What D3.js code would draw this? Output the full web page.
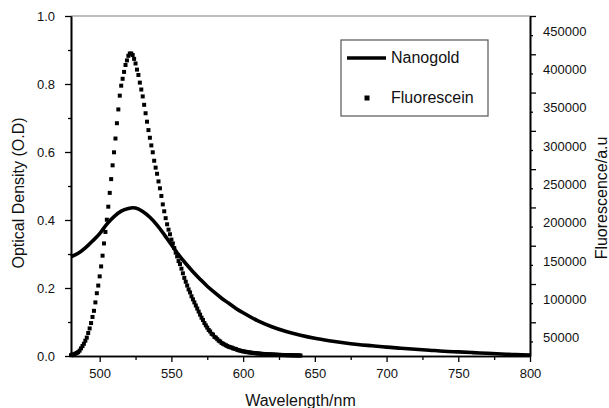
<!DOCTYPE html>
<html>
<head>
<meta charset="utf-8">
<script src="https://cdn.jsdelivr.net/npm/d3@7"></script>
<style>
  body { margin: 0; background: #fff; }
  svg { display: block; font-family: "Liberation Sans", Arial, sans-serif; }
</style>
</head>
<body>
<div id="vis"></div>
<script>
// Nanogold absorbance (O.D) vs wavelength
const NANO_WL = [480, 485, 490, 495, 500, 505, 510, 515, 520, 523, 525, 530, 535, 540, 545, 550, 555, 560, 565, 570,
    575, 580, 585, 590, 595, 600, 610, 620, 630, 640, 650, 660, 670, 680, 690, 700, 710, 720, 730, 740,
    750, 760, 770, 780, 790, 800];
const NANO_OD = [0.292, 0.302, 0.318, 0.338, 0.360, 0.388, 0.410, 0.426, 0.434, 0.436, 0.435, 0.425, 0.408, 0.385, 0.357, 0.327, 0.298, 0.272, 0.248, 0.226,
    0.205, 0.187, 0.170, 0.155, 0.140, 0.127, 0.104, 0.086, 0.072, 0.061, 0.052, 0.045, 0.039, 0.034, 0.030, 0.026, 0.023, 0.020, 0.017, 0.014,
    0.012, 0.010, 0.008, 0.006, 0.004, 0.003];

// Fluorescein emission (a.u.), one point per nm starting at 480 nm
const FLUO_START = 480;
const FLUO_AU = [
    32000, 33000, 33000, 34000, 35000, 36000, 38000, 41000, 44000, 47000,
    51000, 55000, 61000, 67000, 74000, 82000, 90000, 101000, 113000, 123000,
    135000, 148000, 162000, 178000, 193000, 209000, 226000, 244000, 262000, 280000,
    297000, 315000, 335000, 353000, 371000, 384000, 393000, 402000, 411000, 417000,
    423000, 426000, 426000, 424000, 419000, 413000, 405000, 398000, 388000, 379000,
    370000, 359000, 348000, 337000, 326000, 316000, 306000, 297000, 286000, 277000,
    269000, 259000, 250000, 240000, 229000, 220000, 211000, 203000, 196000, 190000,
    183000, 178000, 172000, 166000, 161000, 155000, 151000, 145000, 139000, 133000,
    128000, 123000, 118000, 114000, 109000, 105000, 101000, 97000, 93000, 89000,
    85000, 81000, 78000, 74000, 71000, 68000, 65000, 63000, 60000, 59000,
    56000, 55000, 53000, 51000, 50000, 48000, 47000, 46000, 45000, 44000,
    43000, 42500, 42000, 41000, 40500, 40000, 39000, 38500, 38000, 37500,
    37000, 36800, 36400, 36000, 35800, 35500, 35200, 35000, 34800, 34600,
    34400, 34200, 34000, 33800, 33700, 33600, 33400, 33300, 33200, 33100,
    33000, 32900, 32800, 32700, 32600, 32500, 32400, 32400, 32300, 32200,
    32200, 32100, 32100, 32000, 32000, 31900, 31900, 31800, 31800, 31800, 31700
];

// ticks
const X_TICKS = [500, 550, 600, 650, 700, 750, 800];
const X_MINOR = [525, 575, 625, 675, 725, 775];
const YL_TICKS = [0, 0.2, 0.4, 0.6, 0.8, 1.0];
const YL_MINOR = [0.1, 0.3, 0.5, 0.7, 0.9];
const YR_TICKS = [50000, 100000, 150000, 200000, 250000, 300000, 350000, 400000, 450000];
const YR_LONG = [75000, 125000, 175000, 225000, 275000, 325000, 375000, 425000, 475000];

const LEGEND = ["Nanogold", "Fluorescein"];

const WIDTH = 609;
const HEIGHT = 408;
const MARGIN = { top: 16, bottom: 52, left: 71, right: 79 };

const SVG = d3.select("#vis").append("svg")
    .attr("width", WIDTH)
    .attr("height", HEIGHT);

SVG.append("rect").attr("width", WIDTH).attr("height", HEIGHT).attr("fill", "#fff");

const x = d3.scaleLinear().domain([480, 800]).range([MARGIN.left, WIDTH - MARGIN.right]);
const yL = d3.scaleLinear().domain([0, 1]).range([HEIGHT - MARGIN.bottom, MARGIN.top]);
const yR = d3.scaleLinear().domain([31000, 475000]).range([HEIGHT - MARGIN.bottom, MARGIN.top]);

const bottomY = HEIGHT - MARGIN.bottom;
const rightX = WIDTH - MARGIN.right;

// top border (grey)
SVG.append("line")
    .attr("x1", MARGIN.left).attr("x2", rightX)
    .attr("y1", MARGIN.top).attr("y2", MARGIN.top)
    .attr("stroke", "#808080").attr("stroke-width", 1.2);

function estilo(g, size) {
    g.select(".domain").attr("stroke", "#000").attr("stroke-width", 1.6);
    g.selectAll(".tick line").attr("stroke", "#000").attr("stroke-width", 1.3);
    g.selectAll("text").attr("font-size", size).attr("fill", "#111").attr("font-family", null);
}

// eje X
SVG.append("g")
    .attr("transform", `translate(0,${bottomY})`)
    .call(d3.axisBottom(x).tickValues(X_MINOR).tickSize(4).tickFormat("").tickSizeOuter(0))
    .call(g => estilo(g, 13));
SVG.append("g")
    .attr("transform", `translate(0,${bottomY})`)
    .call(d3.axisBottom(x).tickValues(X_TICKS).tickSize(6).tickPadding(7).tickSizeOuter(0))
    .call(g => estilo(g, 13));

// eje Y izquierdo
SVG.append("g")
    .attr("transform", `translate(${MARGIN.left},0)`)
    .call(d3.axisLeft(yL).tickValues(YL_MINOR).tickSize(3).tickFormat("").tickSizeOuter(0))
    .call(g => estilo(g, 13));
SVG.append("g")
    .attr("transform", `translate(${MARGIN.left},0)`)
    .call(d3.axisLeft(yL).tickValues(YL_TICKS).tickSize(6).tickPadding(10).tickFormat(d3.format(".1f")).tickSizeOuter(0))
    .call(g => estilo(g, 13));

// eje Y derecho
SVG.append("g")
    .attr("transform", `translate(${rightX},0)`)
    .call(d3.axisRight(yR).tickValues(YR_LONG).tickSize(6).tickFormat("").tickSizeOuter(0))
    .call(g => estilo(g, 13));
SVG.append("g")
    .attr("transform", `translate(${rightX},0)`)
    .call(d3.axisRight(yR).tickValues(YR_TICKS).tickSize(3).tickPadding(10).tickFormat(d3.format("d")).tickSizeOuter(0))
    .call(g => {
        estilo(g, 13);
        g.selectAll("text").attr("y", -4);
    });

// titulos
SVG.append("text")
    .attr("x", (MARGIN.left + rightX) / 2)
    .attr("y", 406)
    .attr("text-anchor", "middle")
    .attr("font-size", 16)
    .attr("fill", "#111")
    .text("Wavelength/nm");

SVG.append("text")
    .attr("transform", "translate(24,193) rotate(-90)")
    .attr("text-anchor", "middle")
    .attr("font-size", 16)
    .attr("fill", "#111")
    .text("Optical Density (O.D)");

SVG.append("text")
    .attr("transform", "translate(607,198) rotate(-90)")
    .attr("text-anchor", "middle")
    .attr("font-size", 16)
    .attr("fill", "#111")
    .text("Fluorescence/a.u");

// curva nanogold
const nano = NANO_WL.map((w, i) => ({ w: w, v: NANO_OD[i] }));
const line = d3.line().x(d => x(d.w)).y(d => yL(d.v)).curve(d3.curveMonotoneX);

SVG.append("path")
    .datum(nano)
    .attr("fill", "none")
    .attr("stroke", "#000")
    .attr("stroke-width", 3.6)
    .attr("d", line);

// puntos fluoresceina
const fluo = FLUO_AU.map((v, i) => ({ w: FLUO_START + i, v: v }));
const DOT = 4;

SVG.append("g")
    .selectAll("rect")
    .data(fluo)
    .join("rect")
    .attr("x", d => x(d.w) - DOT / 2)
    .attr("y", d => yR(d.v) - DOT / 2)
    .attr("width", DOT)
    .attr("height", DOT)
    .attr("fill", "#000");

// leyenda
const leg = SVG.append("g");
leg.append("rect")
    .attr("x", 341).attr("y", 40)
    .attr("width", 147).attr("height", 76)
    .attr("fill", "#fff")
    .attr("stroke", "#555").attr("stroke-width", 1.2);
leg.append("line")
    .attr("x1", 347).attr("x2", 386)
    .attr("y1", 58).attr("y2", 58)
    .attr("stroke", "#000").attr("stroke-width", 3.6);
leg.append("rect")
    .attr("x", 367 - 2.5).attr("y", 98 - 2.5)
    .attr("width", 5).attr("height", 5)
    .attr("fill", "#000");
leg.selectAll("text.lbl")
    .data(LEGEND)
    .join("text")
    .attr("class", "lbl")
    .attr("x", 391)
    .attr("y", (d, i) => 63 + i * 40)
    .attr("font-size", 16)
    .attr("fill", "#111")
    .text(d => d);
</script>
</body>
</html>
